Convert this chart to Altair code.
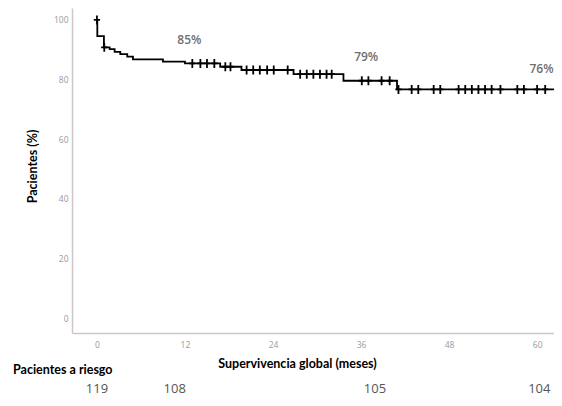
import altair as alt
import pandas as pd

# Kaplan-Meier steps (months, % surviving)
step_times = [0, 0.05, 0.95, 1.73, 2.41, 3.18, 4.13, 4.91, 9.0, 12.0, 16.8, 19.7, 26.8, 33.6, 40.9]
step_surv = [100, 94.6, 90.8, 90.2, 89.3, 88.5, 87.7, 86.8, 86.0, 85.4, 84.3, 83.2, 81.8, 79.6, 76.7]
end_time = 62.3

# censored observations (months)
censor_times = [0, 1.0, 13.0, 14.1, 15.0, 16.0, 17.5, 18.2, 20.4, 21.3, 22.2, 23.2, 24.1,
                26.0, 27.7, 28.6, 29.5, 30.4, 31.3, 32.0, 36.1, 37.0, 38.8, 39.9,
                41.1, 42.9, 43.8, 45.9, 46.8, 49.3, 50.2, 51.1, 52.0, 52.9, 53.8, 55.0,
                57.3, 58.2, 60.0, 61.1]

# annotations
label_text = ["85%", "79%", "76%"]
label_x = [12.6, 36.7, 60.6]
label_y = [93.3, 87.6, 83.6]

# patients at risk
risk_x = [0, 10.6, 37.9, 60.3]
risk_n = ["119", "108", "105", "104"]

x_ticks = [0, 12, 24, 36, 48, 60]
y_ticks = [0, 20, 40, 60, 80, 100]


def level_at(t):
    s = step_surv[0]
    for tt, ss in zip(step_times, step_surv):
        if tt <= t:
            s = ss
    return s


line_df = pd.DataFrame({"t": step_times + [end_time], "s": step_surv + [step_surv[-1]]})
cens_df = pd.DataFrame({"t": censor_times, "s": [level_at(t) for t in censor_times]})
lab_df = pd.DataFrame({"t": label_x, "s": label_y, "txt": label_text})
risk_df = pd.DataFrame({"t": risk_x, "n": risk_n})
head_df = pd.DataFrame({"txt": ["Pacientes a riesgo"]})

xs = alt.Scale(domain=[-3.4, end_time], nice=False, zero=False)
ys = alt.Scale(domain=[-5, 104], nice=False, zero=False)

x_enc = alt.X("t:Q", scale=xs, axis=alt.Axis(
    values=x_ticks, title="Supervivencia global (meses)", titleX=225, titleY=30,
    titleBaseline="middle", titleAlign="center", labelPadding=7))
y_enc = alt.Y("s:Q", scale=ys, axis=alt.Axis(
    values=y_ticks, title="Pacientes (%)", titleX=-40, titleY=158, titleAngle=-90,
    titleBaseline="middle", titleAlign="center", labelPadding=4))

plus_path = ("M-0.2,-1L0.2,-1L0.2,-0.2L0.7,-0.2L0.7,0.2L0.2,0.2L0.2,1L-0.2,1"
             "L-0.2,0.2L-0.7,0.2L-0.7,-0.2L-0.2,-0.2Z")

line = alt.Chart(line_df).mark_line(interpolate="step-after", color="black", strokeWidth=1.8).encode(
    x=x_enc, y=y_enc)

cens = alt.Chart(cens_df).mark_point(shape=plus_path, filled=True, color="black", size=81, opacity=1).encode(
    x="t:Q", y="s:Q")

labs = alt.Chart(lab_df).mark_text(font="Open Sans", fontSize=12, color="#707070", fontWeight=600).encode(
    x="t:Q", y="s:Q", text="txt:N")

risk = alt.Chart(risk_df).mark_text(font="Open Sans", fontSize=13, color="#555555").encode(
    x="t:Q", y=alt.value(381), text="n:N")

head = alt.Chart(head_df).mark_text(font="Lato", fontSize=12.5, fontWeight="bold", color="black",
                                    align="left", baseline="middle").encode(
    x=alt.value(-59), y=alt.value(362), text="txt:N")

chart = alt.layer(line, cens, labs, risk, head).properties(
    width=482, height=325,
    autosize=alt.AutoSizeParams(type="none"),
    padding={"left": 64, "top": 0, "right": 0, "bottom": 65},
).configure_view(stroke=None).configure_axis(
    grid=False, ticks=False, domainColor="#cfc6c6", domainWidth=1.5,
    labelColor="#999999", labelFontSize=8.5, labelFont="Open Sans",
    titleFont="Lato", titleFontSize=12.5, titleFontWeight="bold", titleColor="black")

chart.save("out.html", embed_options={"renderer": "svg", "actions": False})
